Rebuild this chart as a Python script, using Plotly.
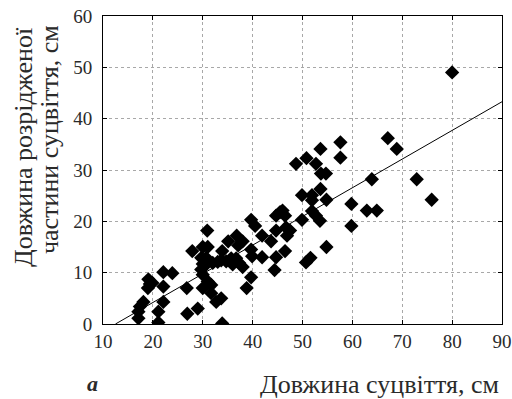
import plotly.graph_objects as go

# Inflorescence length (cm) vs. length of the loose part (cm)
inflorescence_len = [
    80.0, 67.1, 68.9, 57.6, 57.6, 53.6, 50.8, 48.7, 52.7, 53.7, 54.7, 53.6, 49.9, 51.9, 51.9,
    54.8, 59.8, 62.9, 64.9, 59.8, 63.9, 72.9, 75.9, 51.9, 52.7, 53.5, 49.9, 54.8, 50.7, 51.6,
    45.5, 46.0, 46.5, 44.7, 46.7, 47.5, 46.9, 44.7, 39.7, 40.5, 41.9, 43.7, 46.5, 44.7, 44.4,
    41.9, 39.7, 39.9, 39.7, 38.8, 36.8, 35.1, 37.1, 38.0, 33.9, 30.9, 30.0, 31.0, 27.9,
    29.7, 30.7, 30.0, 31.0, 32.0, 33.0, 33.7, 34.7, 35.7, 36.7, 37.3, 38.0, 36.0,
    29.7, 30.0, 31.0, 31.7, 30.0, 31.7, 32.7, 33.7, 33.9, 29.0, 26.9, 26.8,
    22.1, 23.9, 19.1, 19.4, 19.0, 22.1, 22.1, 18.1, 17.4, 17.1, 17.1, 21.1, 21.1, 19.9,
]
loose_len = [
    49.0, 36.2, 34.1, 35.4, 32.4, 34.1, 32.3, 31.2, 31.2, 29.3, 29.3, 26.3, 25.1, 25.1, 24.1,
    24.2, 23.4, 22.1, 22.1, 19.1, 28.2, 28.2, 24.2, 22.0, 21.1, 20.1, 20.3, 15.0, 12.0, 12.9,
    21.8, 22.1, 21.1, 21.1, 18.8, 18.2, 17.2, 18.2, 20.3, 19.1, 17.2, 16.1, 14.2, 13.0, 10.5,
    13.0, 14.5, 13.2, 9.1, 7.0, 17.2, 16.1, 15.3, 16.1, 14.2, 18.2, 15.0, 15.0, 14.2,
    12.9, 12.9, 11.7, 11.9, 11.9, 12.1, 12.4, 12.2, 12.8, 12.8, 11.9, 11.1, 11.6,
    10.6, 9.6, 8.3, 7.6, 7.0, 6.0, 4.3, 5.0, 0.1, 3.0, 2.0, 7.0,
    10.1, 9.9, 8.7, 7.8, 7.0, 7.3, 4.3, 4.3, 3.4, 2.4, 1.1, 2.4, 0.3, 8.0,
]

# Regression line end points
fit_x = [12.5, 90.0]
fit_y = [0.0, 43.3]

x_ticks = [10, 20, 30, 40, 50, 60, 70, 80, 90]
y_ticks = [0, 10, 20, 30, 40, 50, 60]

y_title_lines = ["Довжина розрідженої", "частини суцвіття, см"]
x_title = "Довжина суцвіття, см"
panel_label = "a"

FONT = "Liberation Serif, Times New Roman, serif"
TXT = "#2a2a2a"

W, H = 512, 399
L, R, T, B = 103, 10, 16, 75
PW, PH = W - L - R, H - T - B


def px_x(page_x):
    return (page_x - L) / PW


def px_y(page_y):
    return (H - B - page_y) / PH


fig = go.Figure()
fig.add_trace(go.Scatter(
    x=fit_x, y=fit_y, mode="lines",
    line=dict(color="black", width=1), showlegend=False, hoverinfo="skip",
))
fig.add_trace(go.Scatter(
    x=inflorescence_len, y=loose_len, mode="markers",
    marker=dict(symbol="diamond", size=11, color="black", line=dict(width=0)),
    showlegend=False,
))

axis_common = dict(
    showline=True, linecolor="black", linewidth=1, mirror="ticks",
    ticks="inside", ticklen=4, tickcolor="black",
    showgrid=True, gridcolor="#a8a8a8", griddash="dot", gridwidth=1,
    zeroline=False, tickfont=dict(family=FONT, size=19, color=TXT),
    ticklabeloverflow="allow", automargin=False,
)

fig.update_layout(
    width=W, height=H,
    margin=dict(l=L, r=R, t=T, b=B, autoexpand=False),
    paper_bgcolor="white", plot_bgcolor="white",
    xaxis=dict(range=[10, 90], tickvals=x_ticks, **axis_common),
    yaxis=dict(range=[0, 60], tickvals=y_ticks, ticklabelstandoff=6, **axis_common),
    font=dict(family=FONT, color=TXT),
    annotations=[
        dict(text=y_title_lines[0], textangle=-90,
             xref="paper", yref="paper", x=px_x(23), y=px_y(147), xanchor="center", yanchor="middle",
             showarrow=False, font=dict(family=FONT, size=26, color=TXT)),
        dict(text=y_title_lines[1], textangle=-90,
             xref="paper", yref="paper", x=px_x(49), y=px_y(140), xanchor="center", yanchor="middle",
             showarrow=False, font=dict(family=FONT, size=26, color=TXT)),
        dict(text=x_title, xref="paper", yref="paper",
             x=px_x(501), y=px_y(384), xanchor="right", yanchor="middle",
             showarrow=False, font=dict(family=FONT, size=26, color=TXT)),
        dict(text="<b><i>" + panel_label + "</i></b>", xref="paper", yref="paper",
             x=px_x(92), y=px_y(383), xanchor="center", yanchor="middle",
             showarrow=False, font=dict(family=FONT, size=22, color=TXT)),
    ],
)

fig.write_html(
    "out.html",
    config={"displayModeBar": False},
    post_script="document.body.style.margin='0';document.body.style.overflow='hidden';",
)
